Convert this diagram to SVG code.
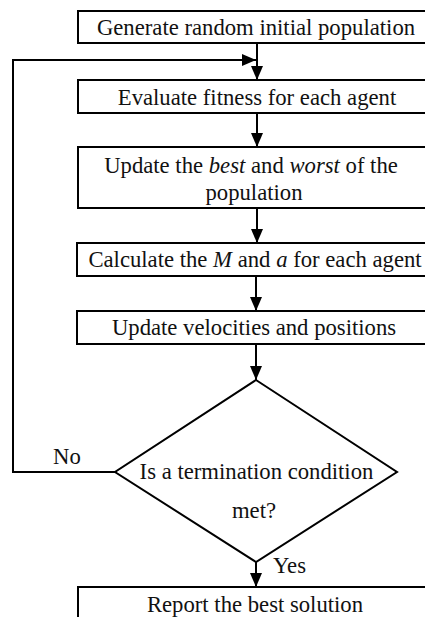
<svg xmlns="http://www.w3.org/2000/svg" width="425" height="617" viewBox="0 0 425 617">
<style>
.box{fill:#fff;stroke:#000;stroke-width:2}
.ln{fill:none;stroke:#000;stroke-width:2}
.t{font-family:'Liberation Serif','Times New Roman',serif;font-size:22.7px;fill:#111}
.c{text-anchor:middle}
</style>
<defs>
<marker id="ah" viewBox="0 0 14 12" refX="14" refY="6" markerWidth="14" markerHeight="12" markerUnits="userSpaceOnUse" orient="auto">
<path d="M0,0 L14,6 L0,12 Z" fill="#000"/>
</marker>
</defs>
<rect width="425" height="617" fill="#fff"/>
<g id="connectors">
<line class="ln" x1="257" y1="43" x2="257" y2="80" marker-end="url(#ah)"/>
<polyline class="ln" points="115,472 13,472 13,60 256,60" marker-end="url(#ah)"/>
<line class="ln" x1="257" y1="113" x2="257" y2="147" marker-end="url(#ah)"/>
<line class="ln" x1="257" y1="208" x2="257" y2="243" marker-end="url(#ah)"/>
<line class="ln" x1="256" y1="276" x2="256" y2="311" marker-end="url(#ah)"/>
<line class="ln" x1="256" y1="344" x2="256" y2="380" marker-end="url(#ah)"/>
<line class="ln" x1="256" y1="562" x2="256" y2="587" marker-end="url(#ah)"/>
</g>
<g id="n1"><rect class="box" x="78" y="11" width="360" height="32"/><text class="t c" x="256" y="35">Generate random initial population</text></g>
<g id="n2"><rect class="box" x="78" y="80" width="360" height="33"/><text class="t c" x="257" y="105">Evaluate fitness for each agent</text></g>
<g id="n3"><rect class="box" x="78" y="147" width="360" height="61"/><text class="t c" x="251" y="173">Update the <tspan font-style="italic">best</tspan> and <tspan font-style="italic">worst</tspan> of the</text><text class="t c" x="254" y="200">population</text></g>
<g id="n4"><rect class="box" x="77" y="243" width="360" height="33"/><text class="t c" x="255" y="267">Calculate the <tspan font-style="italic">M</tspan> and <tspan font-style="italic">a</tspan> for each agent</text></g>
<g id="n5"><rect class="box" x="77" y="311" width="360" height="33"/><text class="t c" x="254" y="335">Update velocities and positions</text></g>
<g id="n6"><polygon class="box" points="256,380 397,472 256,562 115,472"/><text class="t c" x="256.5" y="479">Is a termination condition</text><text class="t c" x="254" y="518">met?</text></g>
<g id="n7"><rect class="box" x="78" y="587" width="360" height="40"/><text class="t c" x="255" y="612">Report the best solution</text></g>
<text class="t" x="53" y="464">No</text>
<text class="t" x="273" y="573">Yes</text>
</svg>
